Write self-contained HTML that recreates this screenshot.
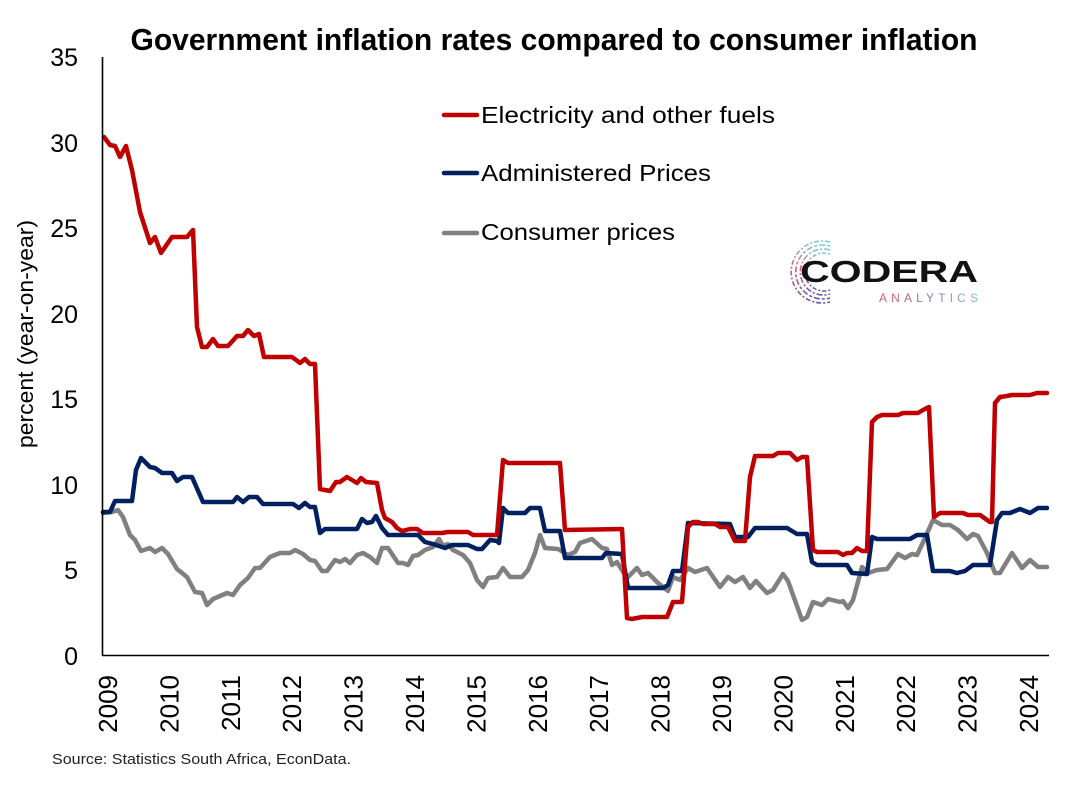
<!DOCTYPE html>
<html><head><meta charset="utf-8"><style>
html,body{margin:0;padding:0;background:#fff;}
svg{display:block;}
</style></head><body>
<svg width="1080" height="789" viewBox="0 0 1080 789" xmlns="http://www.w3.org/2000/svg">
<defs>
<linearGradient id="ag" x1="0" x2="1" y1="0" y2="0">
<stop offset="0" stop-color="#e0606e"/><stop offset="0.5" stop-color="#a070a0"/><stop offset="1" stop-color="#78c4e0"/>
</linearGradient>
<linearGradient id="cg" x1="0" x2="0" y1="0" y2="1">
<stop offset="0" stop-color="#80c8e4"/><stop offset="0.45" stop-color="#e05a6c"/><stop offset="1" stop-color="#5a5cb0"/>
</linearGradient>
</defs>
<rect width="1080" height="789" fill="#fff"/>
<text x="554" y="50" text-anchor="middle" font-family="Liberation Sans, sans-serif" font-weight="bold" font-size="31" textLength="847" lengthAdjust="spacingAndGlyphs" fill="#000">Government inflation rates compared to consumer inflation</text>

<!-- y tick labels -->
<g font-family="Liberation Sans, sans-serif" font-size="25" fill="#000" text-anchor="end">
<text x="78" y="66">35</text>
<text x="78" y="152">30</text>
<text x="78" y="237">25</text>
<text x="78" y="323">20</text>
<text x="78" y="408">15</text>
<text x="78" y="494">10</text>
<text x="78" y="579">5</text>
<text x="78" y="665">0</text>
</g>
<text transform="translate(33,334) rotate(-90)" text-anchor="middle" font-family="Liberation Sans, sans-serif" font-size="22" textLength="228" lengthAdjust="spacingAndGlyphs" fill="#000">percent (year-on-year)</text>

<!-- x labels -->
<g font-family="Liberation Sans, sans-serif" font-size="26" fill="#000" text-anchor="end">
<text transform="translate(117,675) rotate(-90)">2009</text>
<text transform="translate(178.4,675) rotate(-90)">2010</text>
<text transform="translate(239.8,675) rotate(-90)">2011</text>
<text transform="translate(301.2,675) rotate(-90)">2012</text>
<text transform="translate(362.6,675) rotate(-90)">2013</text>
<text transform="translate(424,675) rotate(-90)">2014</text>
<text transform="translate(485.4,675) rotate(-90)">2015</text>
<text transform="translate(546.8,675) rotate(-90)">2016</text>
<text transform="translate(608.2,675) rotate(-90)">2017</text>
<text transform="translate(669.6,675) rotate(-90)">2018</text>
<text transform="translate(731,675) rotate(-90)">2019</text>
<text transform="translate(792.4,675) rotate(-90)">2020</text>
<text transform="translate(853.8,675) rotate(-90)">2021</text>
<text transform="translate(915.2,675) rotate(-90)">2022</text>
<text transform="translate(976.6,675) rotate(-90)">2023</text>
<text transform="translate(1038,675) rotate(-90)">2024</text>
</g>

<text x="52" y="764" font-family="Liberation Sans, sans-serif" font-size="15" textLength="299" lengthAdjust="spacingAndGlyphs" fill="#222">Source: Statistics South Africa, EconData.</text>

<!-- legend -->
<g stroke-width="4.5" stroke-linecap="round">
<line x1="444" y1="115" x2="477" y2="115" stroke="#C00000"/>
<line x1="444" y1="173" x2="477" y2="173" stroke="#002060"/>
<line x1="444" y1="233" x2="477" y2="233" stroke="#808080"/>
</g>
<g font-family="Liberation Sans, sans-serif" font-size="23" fill="#000">
<text x="481" y="123" textLength="294" lengthAdjust="spacingAndGlyphs">Electricity and other fuels</text>
<text x="481" y="181" textLength="230" lengthAdjust="spacingAndGlyphs">Administered Prices</text>
<text x="481" y="240" textLength="194" lengthAdjust="spacingAndGlyphs">Consumer prices</text>
</g>

<!-- logo -->
<g fill="none" stroke="url(#cg)" stroke-width="1.6">
<path d="M 830 242 A 31 31 0 1 0 830 302" stroke-dasharray="5 2 2 2"/>
<path d="M 830 246 A 27 27 0 1 0 830 298" stroke-dasharray="3 2 6 2"/>
<path d="M 830 250 A 23 23 0 1 0 830 294" stroke-dasharray="6 2 2 2"/>
<path d="M 830 254 A 19 19 0 1 0 830 290" stroke-dasharray="2 2 4 2"/>
</g>
<text x="800" y="282" font-family="Liberation Sans, sans-serif" font-weight="bold" font-size="31" textLength="178" lengthAdjust="spacingAndGlyphs" fill="#111">CODERA</text>
<text x="879" y="302" font-family="Liberation Sans, sans-serif" font-size="12" textLength="99" lengthAdjust="spacing" fill="url(#ag)">ANALYTICS</text>

<!-- series -->
<g fill="none" stroke-width="4.5" stroke-linejoin="round" stroke-linecap="round">
<polyline stroke="#808080" points="103,513 112,512 118,510 123,517 130,535 135,540 141,551 150,548 155,552 162,548 168,554 177,569 187,577 195,592 202,593 207,605 213,599 227,593 233,595 240,585 248,578 255,568 260,568 270,557 280,553 290,553 295,550 303,554 310,560 315,561 322,571 327,571 335,560 340,562 345,559 350,563 357,555 363,553 370,557 377,563 382,548 388,548 398,563 403,563 408,565 413,556 418,555 425,550 433,547 439,539 443,546 448,544 453,550 463,555 470,563 477,580 483,587 488,578 497,577 503,568 510,577 522,577 528,570 535,553 540,535 545,548 558,549 568,555 575,552 580,543 592,539 602,548 607,549 612,565 617,562 627,578 632,573 637,568 642,575 648,573 658,583 668,591 673,577 680,580 688,568 695,572 707,568 720,587 728,577 735,582 743,577 750,588 756,581 767,593 773,590 783,574 788,581 802,620 807,617 813,602 822,605 828,599 840,602 843,601 848,608 853,600 862,567 868,573 877,570 887,569 898,554 905,558 912,554 917,555 925,538 933,520 942,525 950,525 958,530 967,539 973,534 978,536 987,553 995,573 1000,573 1012,553 1022,568 1030,560 1038,567 1047,567"/>
<polyline stroke="#002060" points="103,512 110,512 115,501 132,501 136,470 141,458 150,467 155,468 162,473 172,473 177,481 183,477 192,477 203,502 233,502 237,497 243,502 249,497 257,497 263,504 293,504 299,508 305,503 310,507 315,507 320,533 325,529 357,529 362,519 367,523 372,522 376,516 382,528 388,535 418,535 425,542 433,544 445,548 452,545 468,545 477,549 482,549 490,540 497,541 499,543 503,508 508,513 525,513 530,508 540,508 545,531 560,531 565,558 602,558 606,553 622,554 628,588 663,588 668,585 673,571 682,571 688,523 730,524 735,537 748,537 755,528 787,528 797,534 807,534 812,562 817,565 847,565 852,573 867,574 872,537 877,539 910,539 917,535 927,535 933,571 950,571 957,573 965,571 973,565 990,565 997,520 1002,513 1010,513 1020,509 1030,513 1038,508 1047,508"/>
<polyline stroke="#C00000" points="104,137 110,145 115,146 120,157 126,146 132,170 140,212 150,243 155,237 161,253 172,237 187,237 193,230 197,327 202,347 207,347 213,339 218,346 228,346 237,336 243,336 248,330 254,336 259,334 264,357 292,357 300,363 305,359 310,364 315,364 320,489 330,491 336,482 340,482 347,477 352,480 357,483 361,478 366,482 377,483 382,510 385,518 392,522 397,528 402,531 410,529 417,529 423,533 442,533 448,532 468,532 473,535 497,535 503,460 508,463 560,463 565,530 622,529 627,618 632,619 642,617 667,617 673,602 682,602 688,527 693,522 698,522 703,524 715,524 720,527 728,527 735,541 745,541 750,477 755,456 773,456 778,453 790,453 797,460 802,457 807,457 813,550 817,552 838,552 843,555 847,553 852,553 857,548 862,551 867,551 872,422 877,417 882,415 898,415 903,413 918,413 923,410 929,407 934,517 940,513 963,513 968,515 980,515 990,522 992,522 995,403 1000,397 1007,396 1012,395 1030,395 1037,393 1047,393"/>
</g>

<!-- axes -->
<line x1="102.5" y1="57" x2="102.5" y2="656" stroke="#000" stroke-width="1.6"/>
<line x1="102" y1="655.5" x2="1049" y2="655.5" stroke="#000" stroke-width="1.6"/>
</svg>
</body></html>
